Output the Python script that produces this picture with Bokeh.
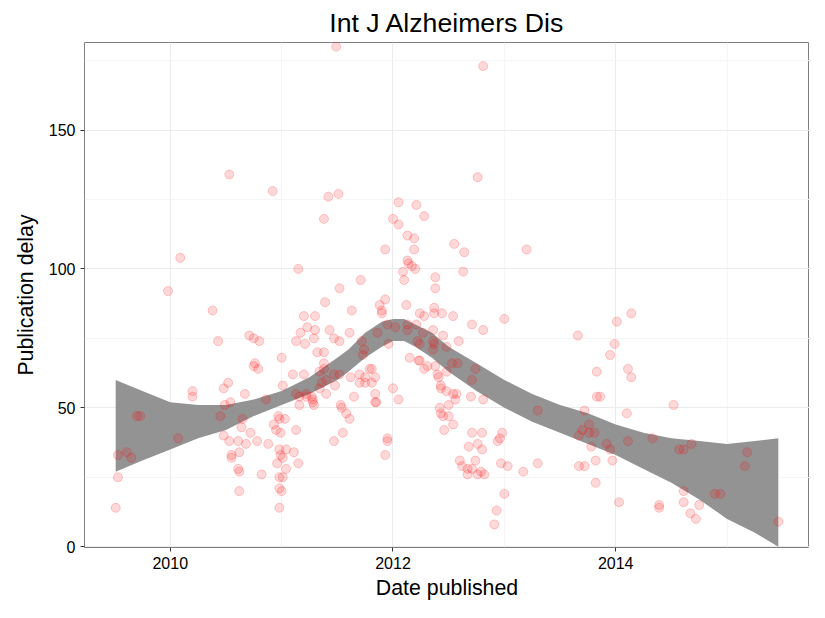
from bokeh.plotting import figure
from bokeh.models import ColumnDataSource, Range1d, FixedTicker
from bokeh.embed import file_html
from bokeh.resources import INLINE

# publication date (decimal year) and delay
date_pub = [2009.51, 2009.53, 2009.53, 2009.61, 2009.65, 2009.70, 2009.73, 2009.98, 2010.09, 2010.07,
            2010.38, 2010.43, 2010.53, 2010.71, 2010.75, 2010.80, 2010.76, 2010.75, 2010.79, 2010.92,
            2011.15, 2011.0, 2010.48, 2010.52, 2010.20, 2010.20, 2010.54, 2010.49, 2010.45, 2010.65,
            2010.64, 2010.67, 2010.86, 2010.48, 2010.53, 2010.61, 2010.68, 2010.72, 2010.78, 2010.88,
            2010.55, 2010.55, 2010.62, 2010.61, 2010.62, 2010.82, 2010.62,
            2010.97, 2010.98, 2011.03, 2010.93, 2010.95, 2010.99, 2011.13,
            2010.98, 2011.04, 2010.99, 2011.01, 2011.11, 2011.15, 2010.96, 2011.04, 2010.98, 2011.01,
            2010.98, 2011.0, 2010.98,
            2011.01, 2011.10, 2011.20, 2011.16, 2011.13, 2011.22, 2011.27, 2011.29, 2011.28, 2011.16,
            2011.17, 2011.23, 2011.13, 2011.21, 2011.29, 2011.30, 2011.20, 2011.30,
            2011.39, 2011.52, 2011.42, 2011.51, 2011.38, 2011.71, 2011.63,
            2011.32, 2011.38, 2011.38, 2011.34, 2011.38, 2011.36, 2011.40, 2011.47, 2011.48, 2011.52,
            2011.43, 2011.47, 2011.52, 2011.61, 2011.62, 2011.72, 2011.73, 2011.74,
            2011.65, 2011.53, 2011.54, 2011.58, 2011.61, 2011.55, 2011.47,
            2011.22, 2011.28, 2011.34, 2011.40,
            2011.79, 2011.81, 2011.84, 2011.81, 2011.70, 2011.70, 2011.75, 2011.84, 2011.85, 2011.75,
            2011.49, 2012.81, 2012.76,
            2012.05, 2012.21, 2012.28, 2012.0, 2012.05, 2012.13, 2012.19, 2011.93, 2012.19, 2012.55,
            2012.64, 2012.63, 2013.20,
            2012.13, 2012.14, 2012.17, 2012.20, 2012.09, 2012.10, 2012.38, 2012.38,
            2011.88, 2011.93, 2011.90, 2011.90, 2012.12,
            2012.24, 2012.28, 2012.37, 2012.37, 2012.44, 2012.54,
            2011.95, 2012.02, 2012.13, 2012.13, 2012.21,
            2011.86, 2011.96, 2012.22, 2012.24, 2012.27, 2012.36, 2012.36, 2012.37, 2012.36, 2012.45,
            2012.48, 2012.59, 2012.71, 2012.81, 2013.0,
            2012.15, 2012.23, 2012.24, 2012.31, 2012.28, 2012.38,
            2012.53, 2012.58, 2012.48, 2012.74, 2012.71,
            2012.40, 2012.41, 2012.43, 2012.43, 2012.48, 2012.54, 2012.57, 2012.56, 2012.50,
            2012.70, 2012.81, 2012.0, 2012.05, 2011.84,
            2012.42, 2012.43, 2012.45, 2012.50, 2012.54, 2012.46,
            2012.71, 2012.80, 2012.68, 2012.76, 2012.80,
            2012.60, 2012.62, 2012.67, 2012.71, 2012.74, 2012.67, 2012.76, 2012.79, 2012.82,
            2012.94, 2012.98, 2012.96, 2012.97, 2013.03, 2013.17, 2013.30, 2013.30,
            2013.0, 2012.93, 2012.91, 2011.95, 2011.95, 2011.93,
            2013.66, 2014.01, 2014.14, 2013.99, 2013.95, 2013.83, 2014.11, 2014.14, 2013.83, 2013.86,
            2013.72, 2014.10, 2014.52,
            2013.70, 2013.76, 2013.76, 2013.81, 2013.67, 2013.78, 2013.92, 2013.95, 2013.97, 2013.82,
            2014.11, 2014.33, 2013.67, 2013.72, 2013.82, 2014.03, 2014.39, 2014.39,
            2014.57, 2014.61, 2014.68, 2014.61, 2014.61, 2014.75, 2014.67, 2014.72,
            2014.89, 2014.94, 2015.16, 2015.18, 2015.46]
delay = [14, 25, 33, 34, 32, 47, 47, 92, 104, 39,
         85, 74, 134, 76, 75, 74, 66, 65, 64, 128,
         100, 68, 57, 59, 56, 54, 52, 51, 47, 46,
         43, 55, 53, 40, 38, 38, 37, 41, 38, 37,
         33, 32, 34, 28, 27, 26, 20,
         47, 46, 46, 44, 42, 41, 42,
         35, 35, 33, 32, 34, 30, 30, 28, 25, 25,
         21, 20, 14,
         58, 62, 62, 54, 55, 55, 54, 51, 52, 51,
         77, 79, 74, 73, 75, 78, 83, 83,
         88, 93, 126, 127, 118, 96, 85,
         70, 70, 66, 63, 64, 59, 60, 62, 58, 62,
         78, 75, 74, 77, 61, 74, 69, 71,
         54, 51, 50, 48, 46, 41, 38,
         54, 53, 57, 55,
         64, 64, 61, 59, 62, 59, 59, 55, 52, 61,
         180, 173, 133,
         124, 123, 119, 118, 116, 112, 111, 107, 107, 109,
         106, 99, 107,
         103, 102, 101, 100, 99, 96, 97, 93,
         87, 89, 85, 84, 87,
         84, 83, 86, 84, 84, 83,
         80, 79, 80, 78, 80,
         77, 73, 74, 73, 77, 78, 74, 73, 71, 76,
         72, 74, 80, 78, 82,
         68, 67, 67, 65, 64, 65,
         66, 66, 63, 64, 60,
         62, 61, 58, 57, 56, 55, 55, 53, 51,
         54, 53, 57, 53, 52,
         50, 48, 47, 47, 44, 42,
         41, 41, 36, 37, 35,
         31, 29, 28, 28, 31, 26, 26, 27, 26,
         38, 41, 39, 30, 29, 27, 30, 49,
         19, 13, 8, 39, 38, 33,
         76, 81, 84, 73, 69, 63, 64, 61, 54, 54,
         49, 48, 51,
         42, 44, 41, 41, 40, 36, 37, 35, 31, 31,
         38, 39, 29, 29, 23, 16, 15, 14,
         35, 35, 37, 20, 16, 15, 12, 10,
         19, 19, 29, 34, 9]

# smoother confidence band
band_x = [2009.51, 2009.75, 2010.0, 2010.25, 2010.5, 2010.75, 2011.0, 2011.25, 2011.5, 2011.6,
          2011.75, 2011.9, 2012.0, 2012.1, 2012.2, 2012.35, 2012.5, 2012.75, 2013.0, 2013.25,
          2013.5, 2013.75, 2014.0, 2014.25, 2014.5, 2014.75, 2015.0, 2015.25, 2015.46]
band_lo = [27, 31, 35, 39, 42, 47, 51, 55, 60, 63, 68, 72, 74, 74, 72, 68, 63, 56, 50, 45,
           41, 37, 33, 28, 23, 17, 10, 5, 0]
band_hi = [60, 56, 52, 51, 51, 53, 56, 61, 68, 71, 77, 81, 82, 82, 80, 77, 72, 66, 60, 55,
           51, 48, 44, 41, 39, 38, 37, 38, 39]

src = ColumnDataSource(dict(x=date_pub, y=delay))
band = ColumnDataSource(dict(x=band_x, lo=band_lo, hi=band_hi))

p = figure(width=809, height=602, output_backend="svg", toolbar_location=None,
           title="Int J Alzheimers Dis",
           x_range=Range1d(2009.23, 2015.74), y_range=Range1d(-0.3, 181.5),
           min_border_left=84, min_border_right=0, min_border_top=16, min_border_bottom=10)

p.varea(x="x", y1="lo", y2="hi", source=band, fill_color="#939393")
p.scatter("x", "y", source=src, size=9, fill_color="red", fill_alpha=0.15,
          line_color="red", line_alpha=0.2)

p.title.align = "center"
p.title.text_font = "Liberation Sans"
p.title.text_font_size = "20pt"
p.title.text_font_style = "normal"
p.title.text_color = "black"

p.xaxis.ticker = FixedTicker(ticks=[2010, 2012, 2014], minor_ticks=[2009, 2011, 2013, 2015])
p.yaxis.ticker = FixedTicker(ticks=[0, 50, 100, 150], minor_ticks=[25, 75, 125, 175])
p.xaxis.axis_label = "Date published"
p.yaxis.axis_label = "Publication delay"
for ax in (p.xaxis, p.yaxis):
    ax.axis_label_text_font = "Liberation Sans"
    ax.axis_label_text_font_size = "16pt"
    ax.axis_label_text_font_style = "normal"
    ax.axis_label_text_color = "black"
    ax.major_label_text_font = "Liberation Sans"
    ax.major_label_text_font_size = "12pt"
    ax.major_label_text_color = "black"
    ax.axis_line_color = None
    ax.major_tick_line_color = "#333333"
    ax.major_tick_out = 4
    ax.major_tick_in = 0
    ax.minor_tick_line_color = None
p.xaxis.axis_label_standoff = 4
p.yaxis.axis_label_standoff = 8

p.grid.grid_line_color = "#ebebeb"
p.grid.minor_grid_line_color = "#f5f5f5"
p.outline_line_color = "#7f7f7f"
p.outline_line_width = 1

open("out.html", "w").write(file_html(p, INLINE))
